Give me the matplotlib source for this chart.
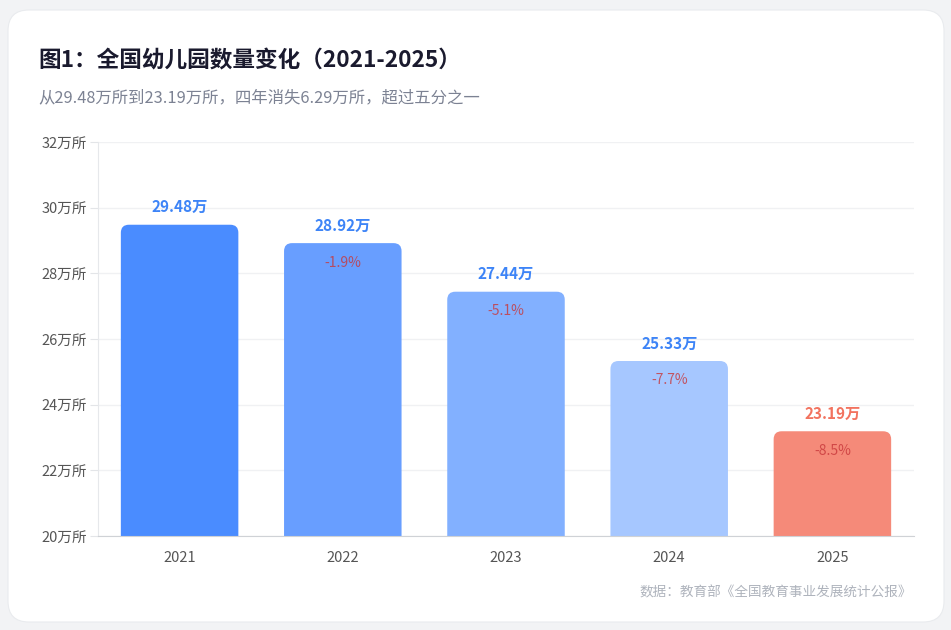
import matplotlib
matplotlib.use("Agg")
import matplotlib.pyplot as plt
from matplotlib.patches import FancyBboxPatch

plt.rcParams["font.family"] = ["Noto Sans CJK SC", "DejaVu Sans"]

years = ["2021", "2022", "2023", "2024", "2025"]
counts = [29.48, 28.92, 27.44, 25.33, 23.19]
changes = [None, "-1.9%", "-5.1%", "-7.7%", "-8.5%"]
bar_colors = ["#4a8cff", "#689eff", "#82b0ff", "#a6c7ff", "#f58a79"]
label_colors = ["#3d84f7", "#3d84f7", "#3d84f7", "#3d84f7", "#f2735f"]
y_ticks = [20, 22, 24, 26, 28, 30, 32]

W, H = 951, 630
fig = plt.figure(figsize=(W / 100, H / 100), dpi=100)
fig.patch.set_facecolor("#f2f3f5")

# white card
card = FancyBboxPatch((8 / W, 8 / H), 936 / W, 612 / H,
                      boxstyle="round,pad=0,rounding_size=0.022",
                      mutation_aspect=W / H,
                      transform=fig.transFigure, facecolor="white",
                      edgecolor="#e9ebee", linewidth=0.8, zorder=-5)
fig.patches.append(card)

ax = fig.add_axes([98 / W, 1 - 536 / H, 816 / W, 394 / H])
ax.set_zorder(1)
ax.set_facecolor("none")
ax.set_xlim(-0.5, 4.5)
ax.set_ylim(20, 32)

bars = ax.bar(range(len(years)), [c - 20 for c in counts], bottom=20, width=0.72)
px_x = 816 / 5.0
px_y = 394 / 12.0
r = 8
for b, col in zip(bars, bar_colors):
    b.set_visible(False)
    x0, w = b.get_x(), b.get_width()
    top = b.get_y() + b.get_height()
    patch = FancyBboxPatch((x0, 19.0), w, top - 19.0,
                           boxstyle=f"round,pad=0,rounding_size={r / px_x}",
                           mutation_aspect=(r / px_y) / (r / px_x),
                           facecolor=col, edgecolor="none", zorder=2)
    ax.add_patch(patch)

for i, (v, ch) in enumerate(zip(counts, changes)):
    ax.annotate(f"{v:.2f}万", (i, v), xytext=(0, 12.5), textcoords="offset points",
                ha="center", va="center", fontsize=11, fontweight="bold",
                color=label_colors[i], zorder=3)
    if ch:
        ax.annotate(ch, (i, v), xytext=(0, -14), textcoords="offset points",
                    ha="center", va="center", fontsize=10,
                    color="#c8373a", alpha=0.8, zorder=3)

ax.set_yticks(y_ticks)
ax.set_yticklabels([f"{t}万所" for t in y_ticks])
ax.set_xticks(range(len(years)))
ax.set_xticklabels(years)
ax.tick_params(axis="y", length=6, color="#e3e5e8", labelsize=10.5,
               labelcolor="#555555", pad=2)
ax.tick_params(axis="x", length=0, labelsize=10.5, labelcolor="#555555", pad=10.5)
ax.grid(axis="y", color="#f0f1f3", linewidth=1, zorder=0)
ax.set_axisbelow(True)
for s in ["top", "right"]:
    ax.spines[s].set_visible(False)
ax.spines["left"].set_color("#e6e8eb")
ax.spines["bottom"].set_color("#cfd2d6")

fig.text(38 / W, 1 - 61 / H, "图1：全国幼儿园数量变化（2021-2025）",
         fontsize=16.3, fontweight="bold", color="#1a1a2e", va="center")
fig.text(38 / W, 1 - 98 / H, "从29.48万所到23.19万所，四年消失6.29万所，超过五分之一",
         fontsize=11.8, color="#7c8293", va="center")
fig.text(912 / W, 1 - 592 / H, "数据：教育部《全国教育事业发展统计公报》",
         fontsize=9.8, color="#aeb3bc", ha="right", va="center")

fig.savefig("out.png", dpi=100, facecolor=fig.get_facecolor())
